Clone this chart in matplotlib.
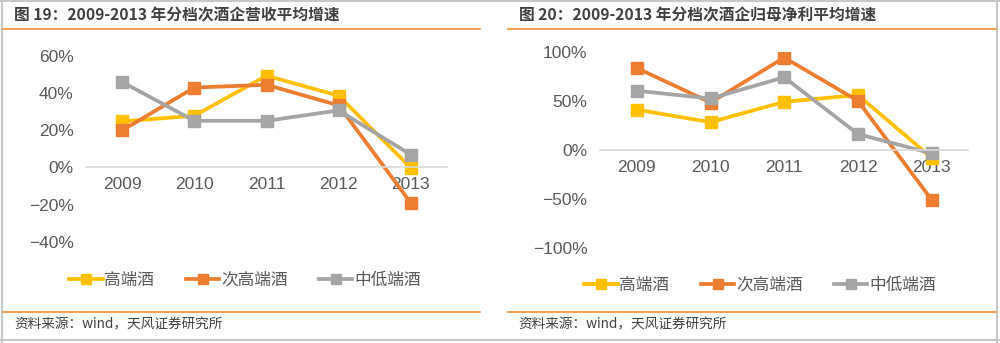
import matplotlib
matplotlib.use('Agg')
import matplotlib.pyplot as plt
from matplotlib.lines import Line2D
from matplotlib.ticker import FuncFormatter

plt.rcParams['font.family'] = ['Liberation Sans', 'Noto Sans CJK SC', 'DejaVu Sans']

years = ['2009', '2010', '2011', '2012', '2013']
series_names = ['高端酒', '次高端酒', '中低端酒']
colors = ['#FFC000', '#ED7D31', '#A5A5A5']

# 营收平均增速 (%)
rev_high = [24.8, 27.8, 49.4, 38.6, -0.3]
rev_sub = [19.9, 43.0, 44.5, 33.4, -19.2]
rev_low = [46.0, 25.1, 25.1, 30.7, 6.8]

# 归母净利平均增速 (%)
np_high = [41.0, 28.3, 49.0, 55.9, -8.0]
np_sub = [83.4, 48.3, 94.0, 50.0, -50.7]
np_low = [60.3, 52.4, 74.0, 16.2, -3.4]

titles = ['图 19：2009-2013 年分档次酒企营收平均增速',
          '图 20：2009-2013 年分档次酒企归母净利平均增速']
source = '资料来源：wind，天风证券研究所'

fig = plt.figure(figsize=(10, 3.43), dpi=100)
W, H = 1000, 343


def fx(px):
    return px / W


def fy(py):
    return 1 - py / H


# outer frame
for seg in [((0.002, 0.002), (0, 1)), ((0.997, 0.997), (0, 1)),
            ((0, 1), (fy(340), fy(340))), ((0, 1), (0.998, 0.998))]:
    fig.add_artist(Line2D(seg[0], seg[1], color='#C8C8C8', lw=1.5))

panels = [
    dict(data=[rev_high, rev_sub, rev_low], ylim=(-40, 60), step=20,
         rect=[fx(86), fy(241.7), fx(361), 185.7 / H],
         title_x=14, line=(3, 480), legend=(245, 280), src_x=14),
    dict(data=[np_high, np_sub, np_low], ylim=(-100, 100), step=50,
         rect=[fx(600), fy(248.3), fx(368.5), 196.6 / H],
         title_x=519, line=(508, 996), legend=(760, 285), src_x=518),
]

for i, p in enumerate(panels):
    ax = fig.add_axes(p['rect'])
    x = range(len(years))
    for vals, c, name in zip(p['data'], colors, series_names):
        ax.plot(x, vals, color=c, lw=2.7, marker='s', markersize=8.5,
                label=name, solid_joinstyle='miter')
    lo, hi = p['ylim']
    ax.set_ylim(lo, hi)
    ax.set_xlim(-0.5, 4.5)
    ax.set_yticks(range(lo, hi + 1, p['step']))
    ax.yaxis.set_major_formatter(FuncFormatter(lambda v, pos: '{:.0f}%'.format(v).replace('-', '\u2212')))
    ax.set_xticks(list(x))
    ax.set_xticklabels(years)
    for s in ['left', 'top', 'right']:
        ax.spines[s].set_visible(False)
    ax.spines['bottom'].set_position(('data', 0))
    ax.spines['bottom'].set_color('#D9D9D9')
    ax.spines['bottom'].set_linewidth(1.2)
    ax.tick_params(axis='both', length=0, labelsize=12.5, colors='#595959')
    ax.tick_params(axis='y', pad=9)
    ax.tick_params(axis='x', pad=7)

    fig.text(fx(p['title_x']), fy(15), titles[i], fontsize=11.3, fontweight='bold',
             color='#404040', va='center', ha='left', family=['Noto Sans CJK SC'])
    x0, x1 = p['line']
    fig.add_artist(Line2D((fx(x0), fx(x1)), (fy(28.5), fy(28.5)), color='#F79646', lw=1.3))
    fig.add_artist(Line2D((fx(x0), fx(x1)), (fy(312), fy(312)), color='#F79646', lw=1.3))
    fig.text(fx(p['src_x']), fy(324), source, fontsize=9.8, color='#404040',
             va='center', ha='left', family=['Noto Sans CJK SC'])

    lx, ly = p['legend']
    handles, labels = ax.get_legend_handles_labels()
    fig.legend(handles, labels, loc='center', bbox_to_anchor=(fx(lx), fy(ly)),
               ncol=3, frameon=False, handlelength=2.0, handletextpad=0.1,
               columnspacing=1.9, markerscale=0.8,
               prop={'family': ['Noto Sans CJK SC'], 'size': 12},
               labelcolor='#595959')

fig.savefig('out.png', dpi=100)
